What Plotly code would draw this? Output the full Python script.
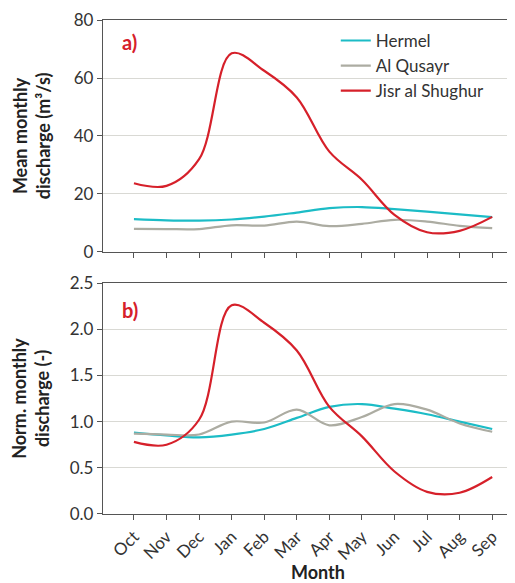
import plotly.graph_objects as go

months = ["Oct", "Nov", "Dec", "Jan", "Feb", "Mar", "Apr", "May", "Jun", "Jul", "Aug", "Sep"]

hermel_q = [11.3, 10.9, 10.8, 11.2, 12.2, 13.6, 15.1, 15.5, 14.8, 13.9, 13.0, 12.0]
qusayr_q = [8.0, 7.9, 7.9, 9.2, 9.1, 10.5, 8.9, 9.7, 11.1, 10.5, 9.0, 8.2]
jisr_q = [23.7, 22.8, 32.0, 68.5, 62.5, 53.3, 34.6, 24.9, 12.8, 6.8, 7.3, 12.1]

hermel_n = [0.88, 0.85, 0.83, 0.86, 0.92, 1.04, 1.16, 1.19, 1.14, 1.08, 1.00, 0.92]
qusayr_n = [0.87, 0.86, 0.86, 1.00, 0.99, 1.13, 0.96, 1.05, 1.19, 1.13, 0.98, 0.89]
jisr_n = [0.78, 0.75, 1.02, 2.26, 2.07, 1.77, 1.16, 0.84, 0.46, 0.24, 0.23, 0.40]

COLORS = {"Hermel": "#1cbcc6", "Al Qusayr": "#acaca2", "Jisr al Shughur": "#d6202a"}
FONT = "Lato, 'Open Sans', sans-serif"

x = list(range(len(months)))

fig = go.Figure()
for name, q, nq in [("Hermel", hermel_q, hermel_n),
                    ("Al Qusayr", qusayr_q, qusayr_n),
                    ("Jisr al Shughur", jisr_q, jisr_n)]:
    fig.add_trace(go.Scatter(x=x, y=q, mode="lines", name=name,
                             line=dict(color=COLORS[name], width=2.2, shape="spline", smoothing=1.0),
                             xaxis="x", yaxis="y"))
    fig.add_trace(go.Scatter(x=x, y=nq, mode="lines", name=name, showlegend=False,
                             line=dict(color=COLORS[name], width=2.2, shape="spline", smoothing=1.0),
                             xaxis="x2", yaxis="y2"))

axis_common = dict(showline=True, linecolor="#555", linewidth=1.3, ticks="outside",
                   ticklen=5, tickcolor="#555", automargin=False,
                   tickfont=dict(size=17, color="#333", family=FONT))
xr = [-0.95, 11.7]
title_font = dict(size=18, color="#222", family=FONT)

# page body adds an 8px margin, so the figure is drawn 8px smaller
fig.update_layout(
    width=507, height=575,
    margin=dict(l=95, r=0, t=12, b=69),
    plot_bgcolor="white", paper_bgcolor="white",
    font=dict(family=FONT, color="#333"),
    xaxis=dict(axis_common, range=xr, tickvals=x, showticklabels=False, mirror=True,
               showgrid=False, anchor="y", zeroline=False),
    yaxis=dict(axis_common, domain=[0.5304, 1], range=[0, 80], dtick=20,
               gridcolor="#d9d9d4", gridwidth=1.2, zeroline=False, anchor="x",
               title=dict(text="<b>Mean monthly<br>discharge (m³/s)</b>",
                          font=title_font, standoff=18)),
    xaxis2=dict(axis_common, range=xr, tickvals=x, ticktext=months, tickangle=-45,
                mirror=True, showgrid=False, anchor="y2", zeroline=False),
    yaxis2=dict(axis_common, domain=[0, 0.4676], range=[0, 2.5], dtick=0.5, tickformat=".1f",
                gridcolor="#d9d9d4", gridwidth=1.2, zeroline=False, anchor="x2",
                title=dict(text="<b>Norm. monthly<br>discharge (-)</b>",
                           font=title_font, standoff=18)),
    legend=dict(x=0.565, y=0.994, xanchor="left", yanchor="top", bgcolor="rgba(0,0,0,0)",
                font=dict(size=17, color="#333"), itemwidth=30, tracegroupgap=0),
    showlegend=True,
)

fig.add_annotation(text="<b>Month</b>", xref="paper", yref="paper", x=0.522, y=-0.118,
                   xanchor="center", yanchor="middle", showarrow=False, font=title_font)
fig.add_annotation(text="<b>a)</b>", xref="paper", yref="paper", x=0.041, y=0.955,
                   xanchor="left", yanchor="middle", showarrow=False,
                   font=dict(size=20, color="#d6202a", family=FONT))
fig.add_annotation(text="<b>b)</b>", xref="paper", yref="paper", x=0.041, y=0.413,
                   xanchor="left", yanchor="middle", showarrow=False,
                   font=dict(size=20, color="#d6202a", family=FONT))

fig.write_html("out.html")
